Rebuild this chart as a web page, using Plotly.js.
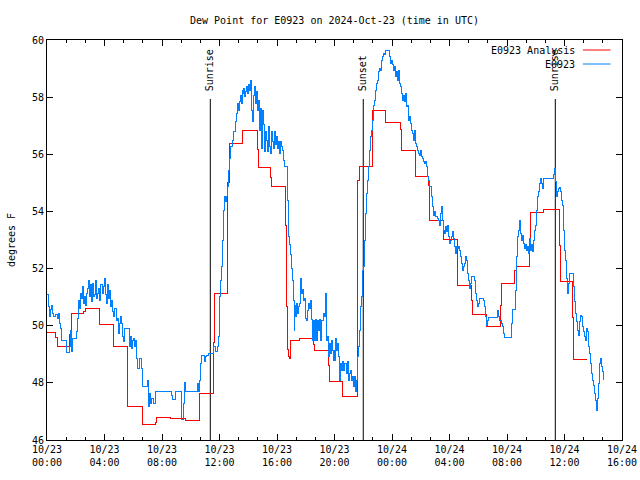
<!DOCTYPE html>
<html>
<head>
<meta charset="utf-8">
<script src="https://cdn.plot.ly/plotly-3.0.1.min.js"></script>
<style>html,body{margin:0;padding:0;background:#fff}#chart{width:640px;height:480px}
#chart .js-line{shape-rendering:crispEdges}</style>
</head>
<body>
<div id="chart"></div>
<script>
// ---- data (hours after 2024-10-23 00:00 UTC) ----
const seriesNames = ['E0923 Analysis', 'E0923'];

const redHours = [0.00,0.58,0.70,1.57,1.67,2.55,2.66,3.64,4.63,5.57,6.61,7.53,7.62,8.58,9.62,10.59,11.60,11.66,12.56,12.68,
  13.57,14.61,14.68,15.53,15.60,16.58,16.65,16.70,16.77,16.86,16.93,17.57,18.55,18.62,19.59,19.66,20.56,21.57,21.61,21.75,
  22.61,23.58,24.58,24.65,25.62,26.55,26.59,27.59,28.56,29.52,29.59,30.56,31.53,31.65,32.53,32.63,33.57,33.64,34.55,35.64,
  35.69,36.59,36.66,37.57];
const redDew = [49.76,49.60,49.28,49.70,50.44,50.50,50.60,50.05,49.28,47.17,46.55,46.60,46.80,46.76,46.67,47.63,49.40,51.13,55.00,56.38,
  56.83,56.17,55.54,55.20,54.89,53.50,50.69,49.17,48.92,48.86,49.50,49.57,49.35,49.15,48.60,48.06,47.54,51.31,55.10,55.57,
  57.53,57.12,56.87,56.15,55.22,54.90,53.70,53.03,51.42,50.90,50.41,49.99,50.72,51.48,51.93,52.09,52.90,53.98,54.07,52.82,
  51.54,50.30,48.82,48.82];

const blueHours = [
  0.00,0.07,0.16,0.23,0.30,0.39,0.46,0.58,0.70,0.77,
  0.86,0.93,0.99,1.39,1.55,1.62,1.69,1.74,2.02,2.09,
  2.16,2.20,2.27,2.32,2.43,2.48,2.55,2.62,2.66,2.73,
  2.80,2.89,2.96,3.01,3.08,3.15,3.22,3.29,3.36,3.43,
  3.50,3.59,3.66,3.73,3.83,3.90,3.97,4.03,4.10,4.17,
  4.24,4.31,4.38,4.45,4.52,4.59,4.66,4.73,4.80,4.87,
  4.94,5.01,5.08,5.15,5.22,5.29,5.36,5.73,5.79,5.86,
  5.95,6.02,6.09,6.19,6.26,6.33,6.44,6.54,6.61,6.96,
  7.03,7.14,7.23,7.30,7.42,7.53,8.65,8.70,8.93,9.34,
  9.39,9.50,9.57,9.62,10.48,10.55,10.59,10.66,10.73,10.94,
  11.01,11.13,11.24,11.55,11.71,11.83,11.90,11.97,12.01,12.08,
  12.15,12.22,12.26,12.33,12.40,12.47,12.56,12.63,12.70,12.77,
  12.87,12.94,13.08,13.15,13.22,13.29,13.36,13.43,13.50,13.57,
  13.63,13.70,13.77,13.84,13.91,13.98,14.05,14.12,14.16,14.23,
  14.30,14.37,14.44,14.51,14.58,14.65,14.72,14.79,14.86,14.93,
  15.00,15.07,15.14,15.21,15.28,15.35,15.42,15.49,15.55,15.62,
  15.69,15.76,15.83,15.90,15.97,16.04,16.11,16.18,16.25,16.32,
  16.39,16.46,16.53,16.74,16.81,16.88,16.95,17.04,17.11,17.15,
  17.20,17.25,17.29,17.34,17.41,17.48,17.55,17.62,17.69,17.76,
  17.83,17.90,17.97,18.04,18.11,18.18,18.25,18.32,18.39,18.50,
  18.57,18.64,18.71,18.78,18.85,18.92,18.99,19.06,19.13,19.20,
  19.27,19.34,19.41,19.48,19.55,19.62,19.69,19.76,19.83,19.90,
  19.97,20.03,20.10,20.17,20.24,20.31,20.38,20.45,20.52,20.59,
  20.66,20.73,20.80,20.87,20.94,21.01,21.08,21.15,21.22,21.29,
  21.36,21.43,21.50,21.57,21.64,21.70,21.77,21.84,21.91,21.98,
  22.03,22.09,22.16,22.23,22.30,22.37,22.44,22.51,22.58,22.65,
  22.72,22.79,22.86,22.93,23.00,23.07,23.14,23.21,23.28,23.35,
  23.42,23.49,23.55,23.83,23.90,23.97,24.04,24.11,24.18,24.25,
  24.32,24.39,24.46,24.53,24.60,24.67,24.74,24.81,24.88,24.95,
  25.02,25.09,25.15,25.22,25.29,25.36,25.43,25.50,25.57,25.64,
  25.71,25.78,25.85,25.92,25.99,26.06,26.13,26.20,26.27,26.34,
  26.41,26.48,26.55,26.62,26.73,26.80,26.87,26.94,27.01,27.15,
  27.22,27.29,27.36,27.43,27.50,27.57,27.64,27.71,27.78,27.85,
  27.92,27.99,28.06,28.13,28.19,28.26,28.33,28.40,28.47,28.54,
  28.61,28.68,28.75,28.82,28.89,28.96,29.03,29.10,29.17,29.24,
  29.31,29.38,29.45,29.52,29.73,29.80,29.86,29.93,30.00,30.07,
  30.35,30.42,30.49,30.56,30.63,30.70,31.37,31.44,31.51,31.65,
  31.72,31.79,31.86,32.30,32.35,32.58,32.65,32.72,32.79,32.86,
  32.92,32.99,33.06,33.13,33.20,33.29,33.36,33.43,33.50,33.57,
  33.64,33.71,33.78,33.85,33.92,33.99,34.06,34.13,34.20,34.27,
  34.34,34.41,34.48,34.55,35.20,35.27,35.34,35.41,35.48,35.55,
  35.62,35.69,35.76,35.83,35.90,35.96,36.03,36.10,36.17,36.24,
  36.31,36.38,36.63,36.68,36.75,36.82,36.89,36.96,37.03,37.10,
  37.17,37.24,37.31,37.38,37.45,37.52,37.59,37.66,37.72,37.79,
  37.86,37.93,38.00,38.07,38.14,38.21,38.28,38.35,38.42,38.49,
  38.56,38.63,38.70];
const blueDew = [
  51.11,50.67,50.32,50.57,50.72,50.43,50.32,50.38,50.26,50.43,
  50.08,49.91,49.50,49.06,49.27,49.85,49.09,49.56,49.79,50.26,
  50.49,50.90,50.61,51.13,50.96,51.37,50.78,51.02,50.72,51.13,
  51.31,51.60,51.02,51.43,50.84,51.48,51.02,51.08,51.60,50.96,
  51.13,51.31,50.90,51.46,51.13,51.37,51.48,51.66,51.08,50.78,
  51.43,50.96,51.25,50.67,50.90,50.49,50.32,50.61,50.20,50.26,
  49.73,50.08,50.32,50.08,49.62,49.44,49.91,49.27,49.62,49.21,
  49.50,49.56,49.29,49.50,48.86,48.51,48.86,48.51,47.87,48.10,
  47.17,47.63,47.28,47.46,47.28,47.69,47.57,47.42,47.69,47.28,
  46.73,47.28,48.00,47.69,47.98,47.69,48.10,48.68,48.97,48.74,
  48.92,48.97,49.03,49.27,49.09,49.27,49.62,50.08,51.02,51.60,
  52.07,53.00,54.05,54.52,54.34,54.52,54.87,55.45,55.86,56.29,
  56.50,56.79,57.16,57.43,57.78,57.55,57.84,58.07,57.78,58.25,
  58.13,58.31,58.02,58.19,58.37,58.13,58.43,58.25,58.60,57.55,
  57.14,58.07,58.37,57.78,58.19,57.55,57.90,56.85,57.61,56.21,
  57.55,57.03,56.09,56.79,56.50,56.09,56.97,56.27,56.03,56.79,
  56.44,56.21,56.79,56.33,56.62,56.21,56.44,56.03,56.44,56.27,
  56.15,55.80,55.57,54.40,53.12,52.83,52.48,52.01,51.60,50.90,
  49.85,50.72,50.32,50.78,50.43,50.67,50.78,51.66,51.13,51.27,
  50.90,50.96,50.26,50.20,50.55,50.78,50.61,50.90,50.22,49.50,
  50.20,49.50,50.22,49.50,50.20,49.85,50.22,49.50,50.20,50.43,
  50.32,51.13,49.50,49.62,48.92,49.38,49.03,49.50,49.15,48.80,
  49.15,48.80,49.56,49.15,49.38,48.92,48.10,48.68,48.45,48.74,
  48.45,48.68,48.33,48.74,48.10,48.33,48.45,48.10,48.22,47.87,
  48.22,47.69,48.10,48.92,49.03,49.27,49.85,50.67,51.02,51.95,
  52.07,53.00,53.93,54.63,55.10,55.57,56.15,56.62,56.85,57.20,
  57.72,57.90,58.25,58.48,58.60,58.89,59.01,58.95,59.30,59.42,
  59.53,59.48,59.65,59.42,59.18,59.30,59.13,58.95,59.07,58.72,
  58.89,58.60,58.95,58.48,58.37,58.13,57.90,58.07,57.84,58.13,
  57.67,57.72,57.20,57.32,57.08,56.85,56.73,56.50,56.85,56.38,
  56.27,56.15,56.03,55.97,56.15,55.92,55.86,55.74,55.68,55.74,
  55.57,55.22,55.10,54.87,54.52,54.17,53.87,53.99,53.82,53.76,
  53.70,53.52,53.93,54.17,53.70,53.35,53.23,53.47,53.29,53.52,
  53.12,52.88,53.00,53.12,53.29,53.06,52.77,52.53,52.77,52.71,
  52.77,52.65,52.42,52.18,51.95,52.07,52.18,52.42,52.30,51.83,
  51.60,51.31,51.48,51.72,51.60,51.13,50.90,50.67,50.78,50.96,
  50.90,50.67,50.32,50.02,50.20,50.29,50.55,50.32,50.20,50.08,
  49.97,49.73,49.59,50.08,50.57,51.25,52.42,53.12,53.35,53.70,
  53.23,53.00,53.17,52.88,52.71,52.83,52.65,52.77,52.53,53.06,
  52.65,52.83,52.59,53.00,53.35,53.52,54.05,54.52,54.69,54.98,
  55.16,54.98,54.81,55.16,55.28,55.51,55.04,54.52,54.69,54.81,
  54.83,54.69,54.40,54.22,53.70,53.35,52.65,52.30,51.66,51.13,
  51.48,51.83,51.37,50.84,50.43,50.14,49.85,49.67,50.14,50.37,
  50.32,49.97,49.79,49.62,49.50,49.91,49.79,49.27,49.03,48.68,
  48.33,48.10,47.92,47.63,47.40,47.05,47.46,47.98,48.68,48.86,
  48.57,48.39,48.10];

const eventNames = ['Sunrise', 'Sunset', 'Sunrise'];
const eventHours = [11.36, 22.00, 35.36];

// ---- helpers ----
const BASE = Date.UTC(2024, 9, 23, 0, 0, 0);
function pad(n) { return String(n).padStart(2, '0'); }
function toDate(h) {
  const d = new Date(BASE + Math.round(h * 3600000));
  return d.getUTCFullYear() + '-' + pad(d.getUTCMonth() + 1) + '-' + pad(d.getUTCDate()) + ' ' +
    pad(d.getUTCHours()) + ':' + pad(d.getUTCMinutes()) + ':' + pad(d.getUTCSeconds());
}

const FONT = 'DejaVu Sans Mono, Liberation Mono, monospace';
const RED = '#ff0000';
const BLUE = 'rgb(0,128,255)';

const traces = [
  { x: redHours.map(toDate), y: redDew, name: seriesNames[0], type: 'scatter', mode: 'lines',
    line: { color: RED, width: 1, shape: 'hv' }, hoverinfo: 'x+y' },
  { x: blueHours.map(toDate), y: blueDew, name: seriesNames[1], type: 'scatter', mode: 'lines',
    line: { color: BLUE, width: 1, shape: 'hv' }, hoverinfo: 'x+y' }
];

const shapes = [];
const annotations = [];
eventHours.forEach((h, i) => {
  shapes.push({ type: 'line', xref: 'x', yref: 'paper', x0: toDate(h), x1: toDate(h), y0: 0, y1: 0.8525,
    line: { color: '#000', width: 1 }, layer: 'below' });
  annotations.push({ xref: 'x', yref: 'paper', x: toDate(h), y: 0.8675, text: eventNames[i], textangle: -90,
    showarrow: false, xanchor: 'center', yanchor: 'bottom', font: { family: FONT, size: 10, color: '#000' } });
});

// custom gnuplot-style key (text, then line sample)
const keyColors = [RED, BLUE];
const keyY = [0.975, 0.94];
seriesNames.forEach((nm, i) => {
  annotations.push({ xref: 'paper', yref: 'paper', x: 0.921, y: keyY[i], text: nm, showarrow: false,
    xanchor: 'right', yanchor: 'middle', font: { family: FONT, size: 10, color: '#000' } });
  shapes.push({ type: 'line', xref: 'paper', yref: 'paper', x0: 0.932, x1: 0.980, y0: keyY[i], y1: keyY[i],
    line: { color: keyColors[i], width: 1 } });
});

const axisCommon = {
  showline: true, linecolor: '#000', linewidth: 1, mirror: 'allticks', ticks: 'inside', ticklen: 6,
  tickcolor: '#000', tickwidth: 1, showgrid: false, zeroline: false,
  tickfont: { family: FONT, size: 10, color: '#000' }
};

const layout = {
  width: 640, height: 480,
  margin: { l: 47, r: 18, t: 40, b: 40, pad: 0 },
  paper_bgcolor: '#fff', plot_bgcolor: '#fff',
  showlegend: false,
  title: { text: 'Dew Point for E0923 on 2024-Oct-23 (time in UTC)', x: 0.5, xref: 'paper', xanchor: 'center',
    y: 0.958, yref: 'container', yanchor: 'middle', font: { family: FONT, size: 10, color: '#000' } },
  xaxis: Object.assign({}, axisCommon, {
    type: 'date', range: [toDate(0), toDate(40)], tick0: toDate(0), dtick: 4 * 3600000,
    tickformat: '%m/%d<br>%H:%M',
    minor: { dtick: 80 * 60000, ticks: 'inside', ticklen: 3, tickcolor: '#000', showgrid: false }
  }),
  yaxis: Object.assign({}, axisCommon, {
    range: [46, 60], dtick: 2, tick0: 46,
    title: { text: 'degrees F', font: { family: FONT, size: 10, color: '#000' }, standoff: 14 }
  }),
  shapes: shapes,
  annotations: annotations
};

Plotly.newPlot('chart', traces, layout, { displayModeBar: false, staticPlot: true });
</script>
</body>
</html>
